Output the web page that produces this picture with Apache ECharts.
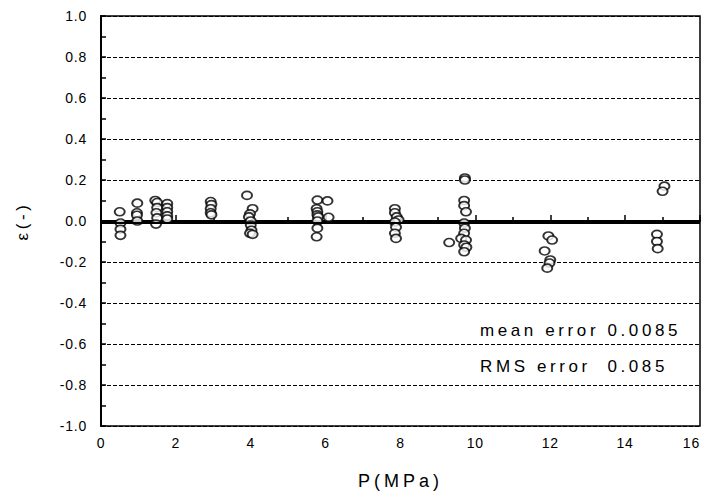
<!DOCTYPE html>
<html>
<head>
<meta charset="utf-8">
<script src="https://cdn.jsdelivr.net/npm/echarts@6/dist/echarts.min.js"></script>
<style>
  html, body { margin: 0; padding: 0; background: #fff; }
  #chart { width: 704px; height: 496px; }
  #chart text[style*="17px"] { letter-spacing: 3.6px; }
  #chart text[style*="18px"] { letter-spacing: 4px; }
  #chart text[style*="14px"] { letter-spacing: 0.8px; }
</style>
</head>
<body>
<div id="chart"></div>
<script>
// pressure (MPa) and relative error of each measured point
const pressure = [
  0.5, 0.52, 0.52, 0.52,
  0.97, 0.96, 0.96, 0.97,
  1.45, 1.5, 1.5, 1.48, 1.5, 1.47,
  1.77, 1.77, 1.77, 1.77, 1.77,
  2.93, 2.95, 2.93, 2.93, 2.95,
  3.9, 4.05, 3.98, 3.95, 4.0, 4.0, 4.02, 3.98, 4.05,
  5.78, 5.76, 5.78, 5.78, 5.8, 5.78, 5.78, 5.76,
  6.05, 6.08,
  7.85, 7.85, 7.9, 7.95, 7.85, 7.88, 7.85, 7.88,
  9.3,
  9.72, 9.72, 9.7, 9.7, 9.75, 9.7, 9.72, 9.7, 9.62, 9.75, 9.7, 9.76, 9.7,
  11.95, 12.05, 11.85, 12.0, 11.98, 11.92,
  15.05, 15.0,
  14.85, 14.85, 14.87
];
const epsilon = [
  0.045, -0.01, -0.04, -0.07,
  0.087, 0.04, 0.028, 0.0,
  0.1, 0.09, 0.065, 0.04, 0.015, -0.015,
  0.085, 0.065, 0.045, 0.025, 0.01,
  0.095, 0.08, 0.06, 0.04, 0.03,
  0.125, 0.06, 0.035, 0.02, 0.0, -0.02, -0.045, -0.06, -0.065,
  0.102, 0.06, 0.045, 0.03, 0.02, 0.0, -0.035, -0.077,
  0.098, 0.018,
  0.06, 0.04, 0.02, 0.005, -0.005, -0.03, -0.06, -0.085,
  -0.105,
  0.21, 0.2, 0.1, 0.075, 0.045, -0.01, -0.035, -0.06, -0.085, -0.093, -0.117, -0.128, -0.15,
  -0.073, -0.093, -0.146, -0.19, -0.205, -0.23,
  0.17, 0.145,
  -0.065, -0.1, -0.135
];
const meanLine = -0.008;
const notes = ["mean error 0.0085", "RMS error  0.085"];

const points = pressure.map((p, i) => [p, epsilon[i]]);
const ellipse = "path://M0,4A5,4,0,1,1,10,4A5,4,0,1,1,0,4Z";
const font = "Liberation Sans, Arial, sans-serif";

const chart = echarts.init(document.getElementById("chart"), null, { renderer: "svg" });
chart.setOption({
  animation: false,
  backgroundColor: "#fff",
  grid: {
    left: 101, right: 4, top: 16, bottom: 70,
    outerBoundsMode: "none", containLabel: false,
    show: true, borderColor: "#000", borderWidth: 1.5, backgroundColor: "transparent"
  },
  xAxis: {
    type: "value", min: 0, max: 16, interval: 2,
    name: "P(MPa)", nameLocation: "middle", nameGap: 46,
    nameTextStyle: { fontFamily: font, fontSize: 18, color: "#000" },
    axisLine: { lineStyle: { color: "#000", width: 2 } },
    axisTick: { inside: true, length: 6, lineStyle: { color: "#000", width: 1.5 } },
    minorTick: { show: true, splitNumber: 2, length: 4, lineStyle: { color: "#000", width: 1.5 } },
    axisLabel: { fontFamily: font, fontSize: 14, color: "#000", margin: 10, alignMaxLabel: "right" },
    splitLine: { show: false }
  },
  yAxis: {
    type: "value", min: -1, max: 1, interval: 0.2,
    name: "ε(-)", nameLocation: "middle", nameRotate: 90, nameGap: 70,
    nameTextStyle: { fontFamily: font, fontSize: 17, color: "#000" },
    axisLine: { lineStyle: { color: "#000", width: 2 } },
    axisTick: { inside: true, length: 5, lineStyle: { color: "#000", width: 1.5 } },
    minorTick: { show: true, splitNumber: 2, length: 5, lineStyle: { color: "#000", width: 1.5 } },
    axisLabel: {
      fontFamily: font, fontSize: 14, color: "#000", margin: 14,
      formatter: v => v.toFixed(1)
    },
    splitLine: { show: true, lineStyle: { color: "#000", width: 1, type: [4, 2] } }
  },
  graphic: [
    { type: "text", left: 480, top: 322, style: { text: notes[0], font: "17px " + font, fill: "#000" } },
    { type: "text", left: 480, top: 358, style: { text: notes[1], font: "17px " + font, fill: "#000" } }
  ],
  series: [{
    type: "scatter",
    data: points,
    symbol: ellipse,
    symbolSize: [10, 8],
    itemStyle: { color: "#fff", borderColor: "#000", borderWidth: 1.8 },
    markLine: {
      silent: true,
      symbol: "none",
      label: { show: false },
      lineStyle: { color: "#000", width: 1.8, type: "solid" },
      data: [{ yAxis: meanLine }]
    }
  }]
});
</script>
</body>
</html>
